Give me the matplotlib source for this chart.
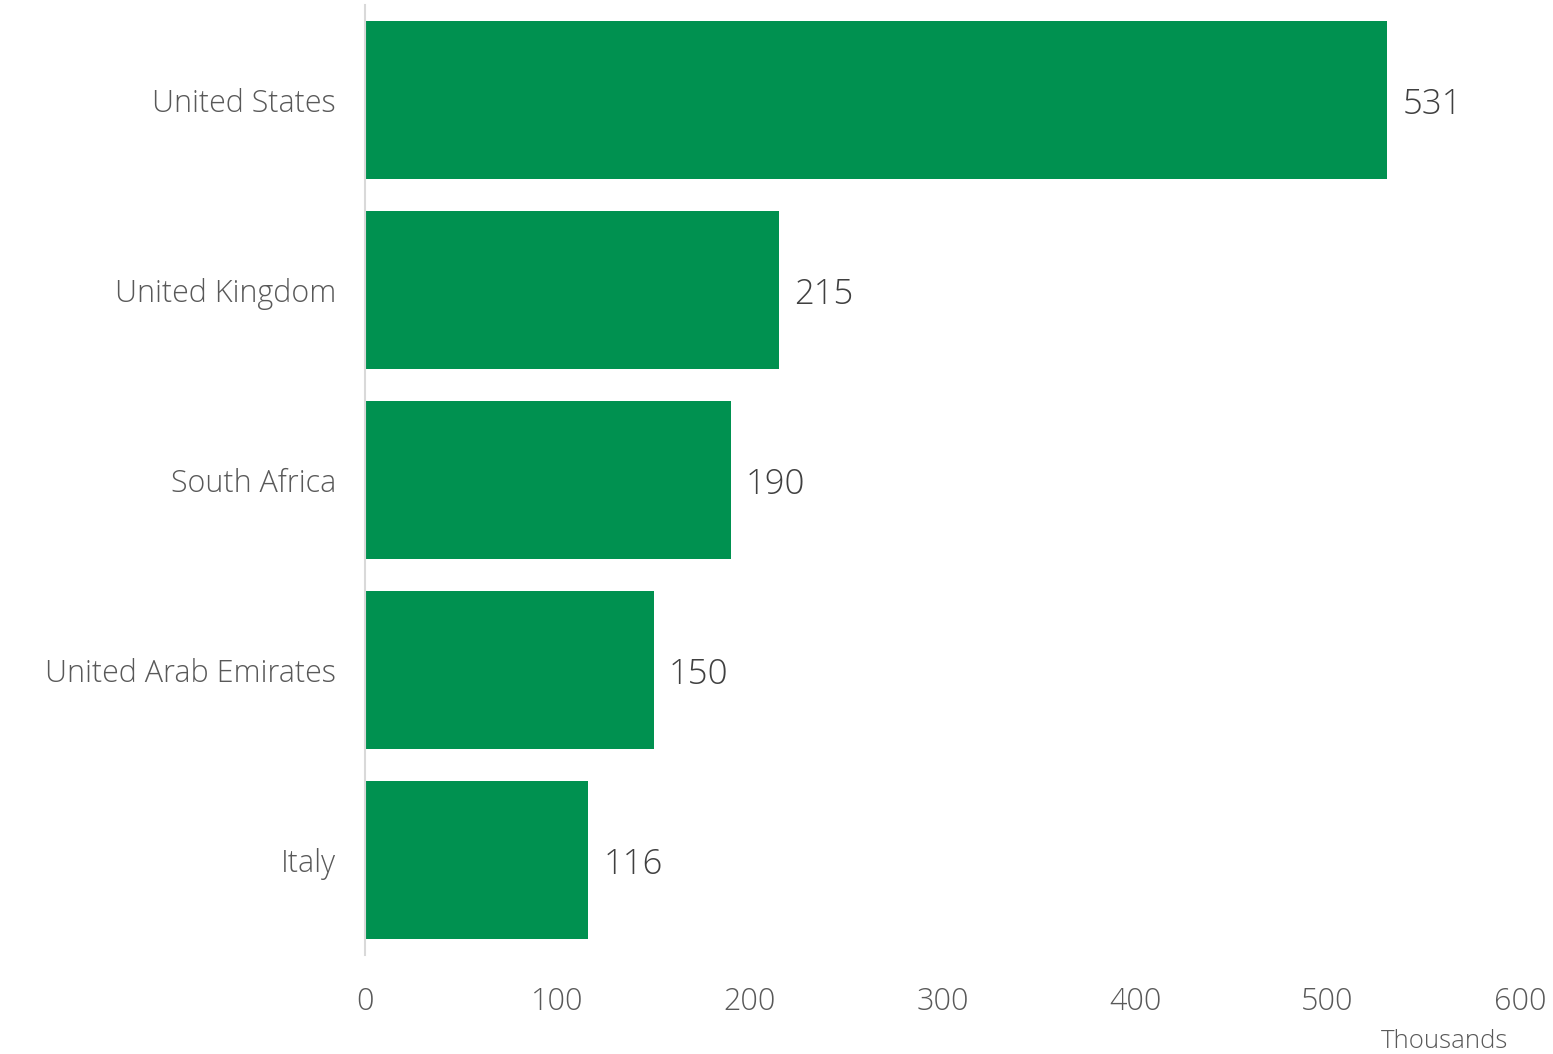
import matplotlib.pyplot as plt

countries = ["United States", "United Kingdom", "South Africa", "United Arab Emirates", "Italy"]
values = [531, 215, 190, 150, 116]
xticks = [0, 100, 200, 300, 400, 500, 600]

plt.rcParams['font.family'] = ['Open Sans', 'DejaVu Sans']
plt.rcParams['font.weight'] = 'light'

fig = plt.figure(figsize=(15.53, 10.54), dpi=100)
ax = fig.add_axes([365 / 1553, 1 - 955 / 1054, (1520 - 365) / 1553, 950 / 1054])

ypos = list(range(len(countries)))
ax.barh(ypos, values, height=158 / 190, color='#009150')
ax.set_ylim(len(countries) - 0.5, -0.5)
ax.set_xlim(0, 600)

for y, v in zip(ypos, values):
    ax.text(v + 8, y + 0.025, str(v), va='center', ha='left', fontsize=25, color='#404040')

ax.set_yticks(ypos)
ax.set_yticklabels(countries, fontsize=22, color='#595959')
ax.set_xticks(xticks)
ax.set_xticklabels([str(t) for t in xticks], fontsize=22, color='#595959')
ax.tick_params(axis='y', length=0, pad=21)
ax.tick_params(axis='x', length=0, pad=22)

for s in ['top', 'right', 'bottom']:
    ax.spines[s].set_visible(False)
ax.spines['left'].set_color('#d9d9d9')
ax.spines['left'].set_linewidth(1.5)

fig.text(1445 / 1553, 1 - 1041 / 1054, "Thousands", ha='center', va='center',
         fontsize=18.5, color='#595959')

fig.savefig('out.png', dpi=100)
